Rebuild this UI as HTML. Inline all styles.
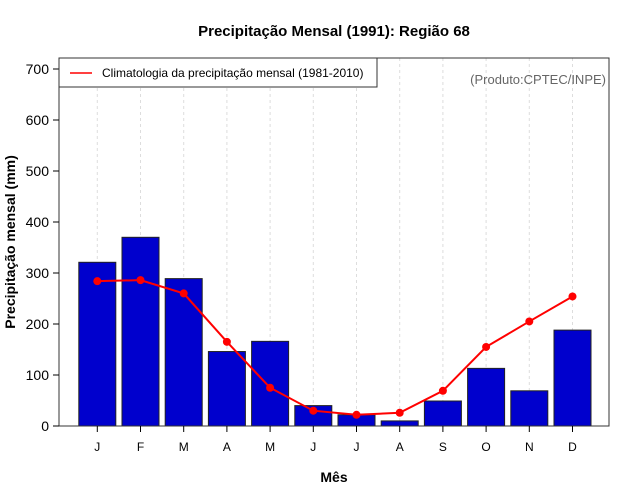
<!DOCTYPE html>
<html><head><meta charset="utf-8"><style>body{margin:0;background:#fff}svg{display:block;font-family:"Liberation Sans",Arial,sans-serif}</style></head>
<body>
<svg id="c" width="640" height="500"></svg>
<script>
const months=['J','F','M','A','M','J','J','A','S','O','N','D'];
const observed=[321,370,289,146,166,40,22,10,49,113,69,188];
const climatology=[284,286,260,165,75,30,22,26,69,155,205,254];
const yTicks=[0,100,200,300,400,500,600,700];
const NS='http://www.w3.org/2000/svg';
const svg=document.getElementById('c');
const L=59,R=609,T=58,B=426;
const y=v=>B-v*(B-69)/700;
const x=i=>97.3+43.2*i;
function mk(t,a,p){const e=document.createElementNS(NS,t);for(const k in a)e.setAttribute(k,a[k]);(p||svg).appendChild(e);return e;}
let e;
// grid
months.forEach((m,i)=>{e=mk('line',{x1:x(i),x2:x(i),y1:T,y2:B,stroke:'#ddd','stroke-dasharray':'3,3'});

});
// bars
observed.forEach((v,i)=>{e=mk('rect',{x:x(i)-18.5,y:y(v),width:37,height:B-y(v),fill:'#0000cd',stroke:'#222','stroke-width':1});

});
// line
e=mk('polyline',{points:climatology.map((v,i)=>x(i)+','+y(v)).join(' '),fill:'none',stroke:'#f00','stroke-width':2});


climatology.forEach((v,i)=>{e=mk('circle',{cx:x(i),cy:y(v),r:4,fill:'#f00'});

});
// frame
e=mk('rect',{x:L,y:T,width:R-L,height:B-T,fill:'none',stroke:'#333','stroke-width':1});


// y axis
yTicks.forEach(v=>{mk('line',{x1:L-6,x2:L,y1:y(v),y2:y(v),stroke:'#000'});
e=mk('text',{x:L-10,y:y(v)+5,'text-anchor':'end','font-size':14});e.textContent=v;

});
months.forEach((m,i)=>{mk('line',{x1:x(i),x2:x(i),y1:B,y2:B+6,stroke:'#000'});
e=mk('text',{x:x(i),y:B+25,'text-anchor':'middle','font-size':12});e.textContent=m;

});
</script>
<svg width="640" height="500" style="position:absolute;left:0;top:0" font-family="Liberation Sans,Arial,sans-serif">
<text x="334" y="36" text-anchor="middle" font-size="15" font-weight="bold">Precipitação Mensal (1991): Região 68</text>
<text x="334" y="482" text-anchor="middle" font-size="14" font-weight="bold">Mês</text>
<text transform="translate(15,242) rotate(-90)" text-anchor="middle" font-size="14" font-weight="bold">Precipitação mensal (mm)</text>
<g>
<rect x="59" y="58" width="318" height="29" fill="#fff" stroke="#333"/>
<line x1="70" y1="73" x2="92" y2="73" stroke="#f00" stroke-width="1.5"/>
<text x="102" y="77" font-size="12">Climatologia da precipitação mensal (1981-2010)</text>
</g>
<text x="606" y="84" text-anchor="end" font-size="13" fill="#666">(Produto:CPTEC/INPE)</text>
</svg>
</body></html>
